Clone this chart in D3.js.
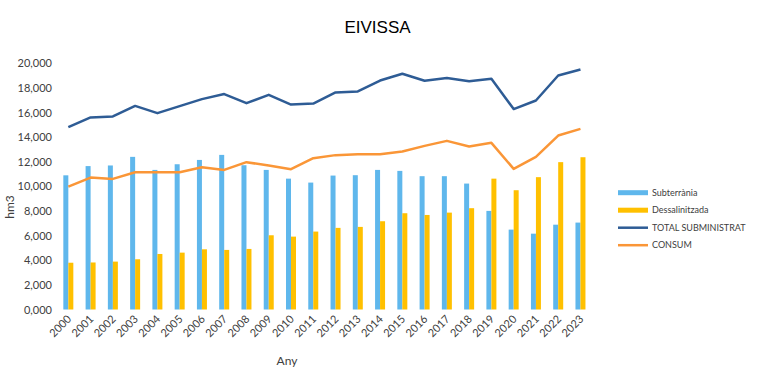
<!DOCTYPE html>
<html>
<head>
<meta charset="utf-8">
<script src="https://cdn.jsdelivr.net/npm/d3@7"></script>
<style>
  body { margin: 0; background: #fff; }
  svg { display: block; font-family: Lato, "Liberation Sans", sans-serif; }
</style>
</head>
<body>
<div id="chart"></div>
<script>
const years = ['2000','2001','2002','2003','2004','2005','2006','2007','2008','2009','2010','2011',
               '2012','2013','2014','2015','2016','2017','2018','2019','2020','2021','2022','2023']
const subterrania = [10900, 11650, 11700, 12400, 11340, 11800, 12150, 12560, 11720, 11340, 10630, 10310,
                     10880, 10910, 11340, 11260, 10830, 10830, 10230, 8010, 6490, 6160, 6890, 7060]
const dessalinitzada = [3800, 3820, 3890, 4080, 4510, 4620, 4890, 4840, 4920, 6030, 5920, 6330,
                        6630, 6710, 7170, 7820, 7680, 7870, 8230, 10630, 9690, 10750, 11970, 12370]
const totalSubministrat = [14810, 15600, 15680, 16540, 15950, 16520, 17090, 17500, 16760, 17440, 16650, 16730,
                           17630, 17710, 18600, 19150, 18580, 18800, 18550, 18740, 16280, 16980, 19010, 19500]
const consum = [9980, 10720, 10610, 11150, 11150, 11150, 11560, 11340, 11970, 11690, 11400, 12290,
                12540, 12620, 12620, 12830, 13290, 13700, 13240, 13540, 11420, 12400, 14130, 14670]
const yTicks = [0, 2000, 4000, 6000, 8000, 10000, 12000, 14000, 16000, 18000, 20000]

const width = 758
const height = 373
const colors = {sub: '#5fb7ec', des: '#ffc000', total: '#2e5c95', consum: '#fa9637'}

const svg = d3.select('#chart').append('svg')
    .attr('width', width)
    .attr('height', height)

const xScale = d3.scaleBand()
    .domain(years)
    .range([57.2, 591.6])

const inner = d3.scaleBand()
    .domain(['sub', 'des'])
    .range([xScale.bandwidth() / 2 - 5, xScale.bandwidth() / 2 + 5])

const yScale = d3.scaleLinear()
    .domain([0, 20000])
    .range([309.5, 63.3])

// title
svg.append('text')
    .attr('x', 377.5)
    .attr('y', 33)
    .attr('text-anchor', 'middle')
    .style('font-family', '"Liberation Sans", Arial, sans-serif')
    .style('font-size', '17px')
    .text('EIVISSA')

// y axis (labels only)
const yAxis = d3.axisLeft(yScale)
    .tickValues(yTicks)
    .tickSize(0)
    .tickPadding(0)
    .tickFormat(d => d3.format(',')(d).replace(/^0$/, '0,000'))
svg.append('g')
    .attr('id', 'y-axis')
    .attr('transform', 'translate(52,0)')
    .call(yAxis)
    .call(g => g.select('.domain').remove())
    .selectAll('text')
    .style('font-family', 'Lato, sans-serif')
    .style('font-size', '11px')
    .attr('fill', '#404040')

// x axis (labels only)
const xAxis = d3.axisBottom(xScale).tickSize(0).tickPadding(0)
svg.append('g')
    .attr('id', 'x-axis')
    .attr('transform', 'translate(0,313)')
    .call(xAxis)
    .call(g => g.select('.domain').remove())
    .selectAll('text')
    .style('font-family', 'Lato, sans-serif')
    .style('font-size', '11px')
    .attr('fill', '#404040')
    .attr('text-anchor', 'end')
    .attr('dy', '0.35em')
    .attr('transform', 'translate(1,4) rotate(-45)')

// axis titles
svg.append('text')
    .attr('transform', 'translate(14,207) rotate(-90)')
    .attr('text-anchor', 'middle')
    .style('font-size', '12px')
    .attr('fill', '#404040')
    .text('hm3')

svg.append('text')
    .attr('x', 287)
    .attr('y', 365)
    .attr('text-anchor', 'middle')
    .style('font-size', '12px')
    .attr('fill', '#404040')
    .text('Any')

// bars
const groups = svg.append('g').selectAll('g')
    .data(years)
    .enter()
    .append('g')
    .attr('transform', d => `translate(${xScale(d)},0)`)

groups.append('rect')
    .attr('x', inner('sub'))
    .attr('width', inner.bandwidth())
    .attr('y', (d, i) => yScale(subterrania[i]))
    .attr('height', (d, i) => yScale(0) - yScale(subterrania[i]))
    .attr('fill', colors.sub)

groups.append('rect')
    .attr('x', inner('des'))
    .attr('width', inner.bandwidth())
    .attr('y', (d, i) => yScale(dessalinitzada[i]))
    .attr('height', (d, i) => yScale(0) - yScale(dessalinitzada[i]))
    .attr('fill', colors.des)

// lines
const line = d3.line()
    .x((d, i) => xScale(years[i]) + xScale.bandwidth() / 2)
    .y(d => yScale(d))

svg.append('path')
    .datum(totalSubministrat)
    .attr('d', line)
    .attr('fill', 'none')
    .attr('stroke', colors.total)
    .attr('stroke-width', 2.5)
    .attr('stroke-linejoin', 'round')

svg.append('path')
    .datum(consum)
    .attr('d', line)
    .attr('fill', 'none')
    .attr('stroke', colors.consum)
    .attr('stroke-width', 2.5)
    .attr('stroke-linejoin', 'round')

// legend
const legendItems = [
    {name: 'Subterrània', color: colors.sub, h: 5},
    {name: 'Dessalinitzada', color: colors.des, h: 5},
    {name: 'TOTAL SUBMINISTRAT', color: colors.total, h: 2.5},
    {name: 'CONSUM', color: colors.consum, h: 2.5}
]
const legend = svg.append('g').attr('id', 'legend')
const rows = legend.selectAll('g')
    .data(legendItems)
    .enter()
    .append('g')
    .attr('transform', (d, i) => `translate(618,${192.7 + i * 17.5})`)
rows.append('rect')
    .attr('x', 0)
    .attr('y', d => -d.h / 2)
    .attr('width', 30)
    .attr('height', d => d.h)
    .attr('fill', d => d.color)
rows.append('text')
    .attr('x', 34)
    .attr('dy', '0.35em')
    .style('font-size', '9px')
    .attr('fill', '#404040')
    .text(d => d.name)
</script>
</body>
</html>
